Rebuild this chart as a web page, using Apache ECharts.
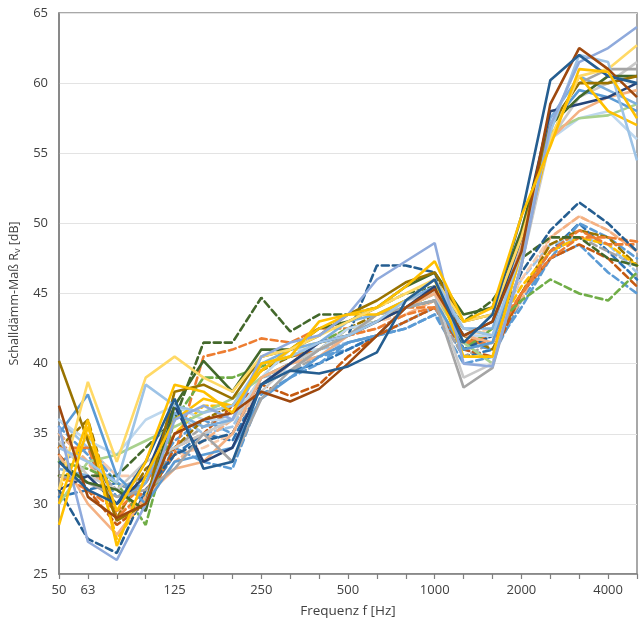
<!DOCTYPE html>
<html><head><meta charset="utf-8">
<script src="https://cdn.jsdelivr.net/npm/echarts@6/dist/echarts.min.js"></script>
<style>html,body{margin:0;padding:0;background:#fff}#c{width:640px;height:626px}</style>
</head><body><div id="c"></div>
<script>
const frequencies = ['50','63','80','100','125','160','200','250','315','400','500','630','800','1000','1250','1600','2000','2500','3150','4000','5000'];
const shownLabels = ['50','63','125','250','500','1000','2000','4000'];
const yTicks = [25,30,35,40,45,50,55,60,65];

// solid curves
const s01 = [33,31,30,33,37.5,32.5,33,38.5,39.5,39.3,39.8,40.8,44.5,46,41.5,43.5,50.5,60.2,62,60.5,60];
const s02 = [37,30.5,29,30,35,36,36.5,38,37.3,38.2,40,42,44,45.3,42,43,48,58.5,62.5,61,59];
const s03 = [35.5,27.3,26,30,36,37,36,40.5,41.5,42,43.5,46,47.3,48.6,40,39.8,47,57,61.5,62.5,64];
const s04 = [34,33,31.5,38.5,37,36.5,37,40,40.5,41.5,42,43,44.5,46,42.5,42,48,56.5,62,61.5,54.5];
const s05 = [28.5,35.5,29.5,33,38.5,38,36.5,40,40.5,43,43.5,44,45.5,47.3,43,44,50.5,55.5,61,60.8,57.5];
const s06 = [31,38.7,33,39,40.5,39,38,40.5,41,42,43,44,45,46,43,43.5,49,56,60.5,61,62.7];
const s07 = [32,31.5,30.5,31,32.5,35,33,37.5,39.5,41,42,43.5,44,44.5,38.3,39.7,47,57,60,61,61];
const s08 = [33,31.5,31,29.5,37,40.2,38,41,41,42.5,43,44,45.5,46.5,43.5,44,49.5,57,59,60.5,60.5];
const s09 = [40.2,34.5,28.8,30,38,38.5,37.5,40.5,41,42,43.5,44.5,45.8,46.5,43,43.5,49,57,60,60,60.5];
const s10 = [35,37.8,32,30,33,33.5,34,37.5,39,40.5,41.5,42,44,44.5,41,41.5,48,57,59.5,59,58];
const s11 = [33.5,30,27.8,30.5,32.5,33,35,39,40,40.5,42,43,44,45,42,41.5,48.5,56,58,59,59.5];
const s12 = [30,33,33.5,34.5,35.5,36.5,37.5,39,40,41,42,43,44,45,41.5,40,47,56.5,57.5,57.7,58.5];
const s13 = [31,32,30,32,37,33,34,38.5,40,41.5,42,43,44,45.5,42,43,49,58,58.5,59,60];
const s14 = [34.5,32,31,33,34,35,36,38,40,41,42,43.5,44.5,45,39,40,47,56,59,60,61.5];
const s15 = [30,36,27,32,36,37.5,37,39.5,41,42.5,43.5,43.5,44.5,46,40.5,40.5,48,56,60.5,58,57];
const s16 = [36,34.5,33.5,36,37,36,36,39,41,41,42.5,43,44,45,42,42,47.5,56,57.5,58,56];
const s17 = [32.5,32,30,31.5,36.5,35.5,36,40,41,41.5,43,43.5,44.5,45.5,42.5,42.5,49,57.5,60.5,59.5,58.5];

// dashed curves
const d01 = [31,27.5,26.5,31,33.5,34.5,35,39,40,41,42,47,47,46.5,41,42,46.5,49.5,51.5,50,48];
const d02 = [34,34,29,31,33.5,40.5,41,41.8,41.5,42.5,42.5,43,44,44,41.5,41.5,45,48,49.5,48.5,48.5];
const d03 = [32,32,32,34,36,41.5,41.5,44.7,42.3,43.5,43.5,44,45,45.5,43,44.5,47.5,49,49,47.5,47];
const d04 = [33,32.5,31.5,28.5,36,39,39,39.8,40.5,41.5,42.5,43,44,44.5,41,42.5,44.5,46,45,44.5,46.5];
const d05 = [33,34,31.5,30.5,34,33,32.5,37.8,39,40,41.5,42,42.5,43.5,41.5,41,44,47.5,50,49,47.5];
const d06 = [35,33,29.5,30,33,34.5,36,39,40,41,42,42.5,43.5,44.5,41,41.5,44.5,49,50.5,49.5,48];
const d07 = [34,36,29,32.5,34,36,37,39.5,40.5,41,42.5,43.5,44,45,42,41,45,48.5,49.5,49,47];
const d08 = [33.5,31,28.5,30,34,35,37,38.5,37.7,38.5,40.5,42,43,44,41,40.5,45,47.5,48.5,47.5,45.5];
const d09 = [35,33,31,32,34,35.5,36.5,38.5,39.5,40.5,41.5,42,43,44,40.5,41.5,45,48,49,48,47];
const d10 = [36,34,32,30,36.5,35,35.5,39,39.5,41,41.5,42,43,44,41,42,46,48.5,49,48.5,46.5];
const d11 = [31,35,27.5,30.5,35,37,37,39.5,41,41.5,42,43.5,44,45,42.5,42,45.5,48,49,48.5,47];
const d12 = [30.5,31,31.5,30.5,33.5,35,34.5,38.5,39.5,40,41,42,43,44,40.5,41,45,48,50,48,46];
const d13 = [33,34,32,32,33.5,34,35,38.5,40,41.5,42.5,43,43.5,44.5,42,42.5,46,49,50.5,49.5,48];
const d14 = [35.5,33.5,30.5,31.5,34.5,36,35,39,40,40.5,41,42,42.5,43.5,40,40.5,44.5,47.5,48.5,46.5,45];
const d15 = [32,31,29.5,31.5,35,36,36.5,40,40.5,41,42,42.5,43.5,44,41.5,42,45,47.5,49,49,48.7];

const solidSeries = [
  [s16,'#BDD7EE'],[s12,'#A9D18E'],[s14,'#C9C9C9'],[s11,'#F4B183'],[s10,'#5B9BD5'],
  [s17,'#7CAFDD'],[s13,'#264478'],[s07,'#A5A5A5'],[s08,'#43682B'],[s09,'#997300'],
  [s15,'#FFC000'],[s06,'#FFD966'],[s04,'#9DC3E6'],[s03,'#8FAADC'],[s02,'#9E480E'],
  [s01,'#255E91'],[s05,'#FFC000']
];
const dashedSeries = [
  [d14,'#5B9BD5'],[d12,'#2E75B6'],[d09,'#A5A5A5'],[d10,'#9DC3E6'],[d13,'#F8CBAD'],
  [d06,'#F4B183'],[d05,'#5B9BD5'],[d07,'#997300'],[d11,'#FFC000'],[d08,'#C55A11'],
  [d15,'#ED7D31'],[d02,'#ED7D31'],[d04,'#70AD47'],[d03,'#43682B'],[d01,'#255E91']
];

const series = [];
dashedSeries.forEach(([d,c]) => series.push({type:'line',data:d,symbol:'none',silent:true,
  lineStyle:{color:c,width:2.6,type:[7,4],cap:'round'}}));
solidSeries.forEach(([d,c]) => series.push({type:'line',data:d,symbol:'none',silent:true,
  lineStyle:{color:c,width:2.6}}));

const chart = echarts.init(document.getElementById('c'), null, {renderer:'canvas'});
chart.setOption({
  animation:false,
  backgroundColor:'#fff',
  grid:{left:59,right:1,top:13,bottom:52,show:true,borderColor:'#8c8c8c',borderWidth:1.5,backgroundColor:'transparent'},
  xAxis:{
    type:'category', data:frequencies, boundaryGap:false,
    name:'Frequenz f [Hz]', nameLocation:'middle', nameGap:30,
    nameTextStyle:{fontFamily:'Open Sans',fontSize:13.5,color:'#404040'},
    axisLine:{lineStyle:{color:'#7f7f7f',width:1.5}},
    axisTick:{show:true,interval:0,length:5,lineStyle:{color:'#7f7f7f',width:1.2}},
    axisLabel:{interval:0,formatter:v=>shownLabels.includes(v)?v:'',fontFamily:'Open Sans',fontSize:13,color:'#404040',margin:10},
    splitLine:{show:false}
  },
  yAxis:{
    type:'value', min:yTicks[0], max:yTicks[yTicks.length-1], interval:5,
    name:'Schalldämm-Maß R{sub|v} [dB]', nameLocation:'middle', nameGap:36,
    nameTextStyle:{fontFamily:'Open Sans',fontSize:12.5,color:'#404040',
      rich:{sub:{fontFamily:'Open Sans',fontSize:9,color:'#404040',verticalAlign:'bottom',padding:[6,0,0,0]}}},
    axisLine:{show:true,lineStyle:{color:'#7f7f7f',width:1.5}},
    axisTick:{show:false},
    axisLabel:{fontFamily:'Open Sans',fontSize:13,color:'#404040',margin:11},
    splitLine:{show:true,lineStyle:{color:'#e3e3e3',width:1}}
  },
  series
});
</script></body></html>
